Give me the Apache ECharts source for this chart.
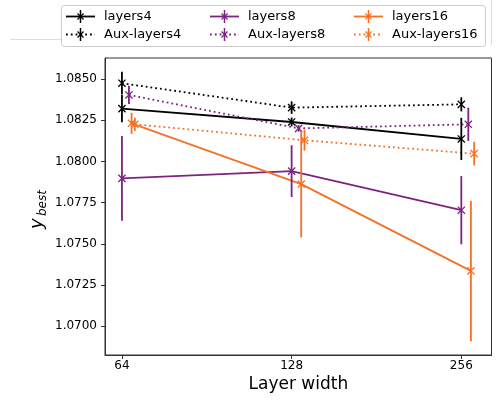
<!DOCTYPE html>
<html><head><meta charset="utf-8">
<script src="https://cdn.jsdelivr.net/npm/echarts@6/dist/echarts.min.js"></script>
<style>html,body{margin:0;padding:0;background:#fff}#c{width:496px;height:402px}</style>
</head><body><div id="c"></div>
<script>
// ---- data ----
const widths = [64, 128, 256];
const seriesNames = ['layers4', 'Aux-layers4', 'layers8', 'Aux-layers8', 'layers16', 'Aux-layers16'];
const layers4 = [1.0832, 1.08239, 1.08136];
const layers4Err = [0.00082, 0.00027, 0.00128];
const auxLayers4 = [1.08474, 1.08326, 1.08346];
const auxLayers4Err = [0.00069, 0.00038, 0.00043];
const layers8 = [1.07897, 1.07941, 1.07704];
const layers8Err = [0.00257, 0.00157, 0.00207];
const auxLayers8 = [1.08403, 1.0820, 1.08225];
const auxLayers8Err = [0.00055, 0.0002, 0.00101];
const layers16 = [1.08231, 1.07862, 1.07336];
const layers16Err = [0.00064, 0.00323, 0.00426];
const auxLayers16 = [1.08225, 1.08128, 1.08047];
const auxLayers16Err = [0.0004, 0.00063, 0.00072];
const yTickLabels = [1.0700, 1.0725, 1.0750, 1.0775, 1.0800, 1.0825, 1.0850];
const xTickLabels = [64, 128, 256];

// ---- styling ----
const FONT = 'DejaVu Sans';
const BLACK = '#000000', PURPLE = '#7c2381', ORANGE = '#f37227';
const specs = [
  { name: seriesNames[0], vals: layers4, errs: layers4Err, color: BLACK, dotted: false, dodge: 1.0 },
  { name: seriesNames[1], vals: auxLayers4, errs: auxLayers4Err, color: BLACK, dotted: true, dodge: 1.0 },
  { name: seriesNames[2], vals: layers8, errs: layers8Err, color: PURPLE, dotted: false, dodge: 1.0 },
  { name: seriesNames[3], vals: auxLayers8, errs: auxLayers8Err, color: PURPLE, dotted: true, dodge: 1.029 },
  { name: seriesNames[4], vals: layers16, errs: layers16Err, color: ORANGE, dotted: false, dodge: 1.040 },
  { name: seriesNames[5], vals: auxLayers16, errs: auxLayers16Err, color: ORANGE, dotted: true, dodge: 1.054 }
];
const LW = 1.8, DOT = [1.8, 3.0], MS = 3.6;

const series = [];
specs.forEach(s => {
  const pts = widths.map((w, i) => [w * s.dodge, s.vals[i], s.errs[i]]);
  series.push({
    type: 'line', name: s.name, data: pts.map(p => [p[0], p[1]]),
    showSymbol: false, silent: true, animation: false,
    lineStyle: { color: s.color, width: LW, type: s.dotted ? DOT : 'solid' },
    z: 2
  });
  series.push({
    type: 'custom', name: s.name + '-err', data: pts, animation: false, silent: true, z: 3,
    renderItem: (params, api) => {
      const x = api.value(0), y = api.value(1), e = api.value(2);
      const top = api.coord([x, y + e]), bot = api.coord([x, y - e]), c = api.coord([x, y]);
      const st = { stroke: s.color, lineWidth: LW, fill: null };
      const mst = { stroke: s.color, lineWidth: 1.3, fill: null };
      return { type: 'group', children: [
        { type: 'line', shape: { x1: top[0], y1: top[1], x2: bot[0], y2: bot[1] }, style: st },
        { type: 'line', shape: { x1: c[0] - MS, y1: c[1] - MS, x2: c[0] + MS, y2: c[1] + MS }, style: mst },
        { type: 'line', shape: { x1: c[0] - MS, y1: c[1] + MS, x2: c[0] + MS, y2: c[1] - MS }, style: mst }
      ]};
    }
  });
});

// ---- legend (drawn) ----
const graphics = [];
graphics.push({ type: 'line', shape: { x1: 10, y1: 39.5, x2: 61, y2: 39.5 }, style: { stroke: '#dddddd', lineWidth: 1 }, silent: true });
graphics.push({ type: 'line', shape: { x1: 491.5, y1: 0, x2: 491.5, y2: 45 }, style: { stroke: '#dddddd', lineWidth: 1 }, silent: true });
graphics.push({ type: 'rect', shape: { x: 61.5, y: 5.5, width: 424, height: 41, r: 3 }, style: { fill: '#ffffff', stroke: '#cccccc', lineWidth: 1 }, z: 10 });
const colX = [66, 210, 354], textX = [104, 248, 392], rowY = [16.5, 34.5];
specs.forEach((s, i) => {
  const col = Math.floor(i / 2), row = i % 2;
  const x0 = colX[col], y0 = rowY[row], xm = x0 + 14.5;
  graphics.push({ type: 'line', z: 11, shape: { x1: x0, y1: y0, x2: x0 + 29, y2: y0 },
    style: { stroke: s.color, lineWidth: LW, lineDash: s.dotted ? DOT : null } });
  graphics.push({ type: 'line', z: 11, shape: { x1: xm, y1: y0 - 6.5, x2: xm, y2: y0 + 6.5 }, style: { stroke: s.color, lineWidth: 1.5 } });
  graphics.push({ type: 'line', z: 11, shape: { x1: xm - 3, y1: y0 - 3, x2: xm + 3, y2: y0 + 3 }, style: { stroke: s.color, lineWidth: 1.2 } });
  graphics.push({ type: 'line', z: 11, shape: { x1: xm - 3, y1: y0 + 3, x2: xm + 3, y2: y0 - 3 }, style: { stroke: s.color, lineWidth: 1.2 } });
  graphics.push({ type: 'text', z: 11, x: textX[col], y: y0, style: { text: s.name, fontFamily: FONT, fontSize: 13, fill: '#000', textAlign: 'left', textVerticalAlign: 'middle' } });
});
// axis titles
graphics.push({ type: 'text', x: 298.4, y: 385, style: { text: 'Layer width', fontFamily: FONT, fontSize: 17, fill: '#000', textAlign: 'center', textVerticalAlign: 'middle' } });
graphics.push({ type: 'text', x: 37, y: 229, rotation: Math.PI / 2, style: { text: 'y', fontFamily: FONT, fontStyle: 'italic', fontSize: 18, fill: '#000', textAlign: 'left', textVerticalAlign: 'middle' } });
graphics.push({ type: 'text', x: 43, y: 216, rotation: Math.PI / 2, style: { text: 'best', fontFamily: FONT, fontStyle: 'italic', fontSize: 12, fill: '#000', textAlign: 'left', textVerticalAlign: 'middle' } });

const chart = echarts.init(document.getElementById('c'), null, { renderer: 'canvas' });
chart.setOption({
  animation: false,
  backgroundColor: '#ffffff',
  grid: { left: 105, right: 4.5, top: 58, bottom: 47, show: true, borderColor: '#333', borderWidth: 1, backgroundColor: 'transparent' },
  xAxis: {
    type: 'log', logBase: 2, min: 59.72, max: 289.6,
    axisLine: { show: true, lineStyle: { color: '#333', width: 1 } },
    axisTick: { show: true, inside: false, length: 4, lineStyle: { color: '#333' }, customValues: xTickLabels },
    axisLabel: { show: true, customValues: xTickLabels, fontFamily: FONT, fontSize: 12, color: '#000', margin: 5, formatter: v => String(Math.round(v)) },
    splitLine: { show: false }, minorTick: { show: false }
  },
  yAxis: {
    type: 'value', min: 1.06826, max: 1.08627,
    axisLine: { show: true, lineStyle: { color: '#333', width: 1 } },
    axisTick: { show: true, inside: false, length: 4, lineStyle: { color: '#333' }, customValues: yTickLabels },
    axisLabel: { show: true, customValues: yTickLabels, fontFamily: FONT, fontSize: 12, color: '#000', margin: 8, formatter: v => v.toFixed(4) },
    splitLine: { show: false }
  },
  graphic: graphics,
  series: series
});
</script>
</body></html>
